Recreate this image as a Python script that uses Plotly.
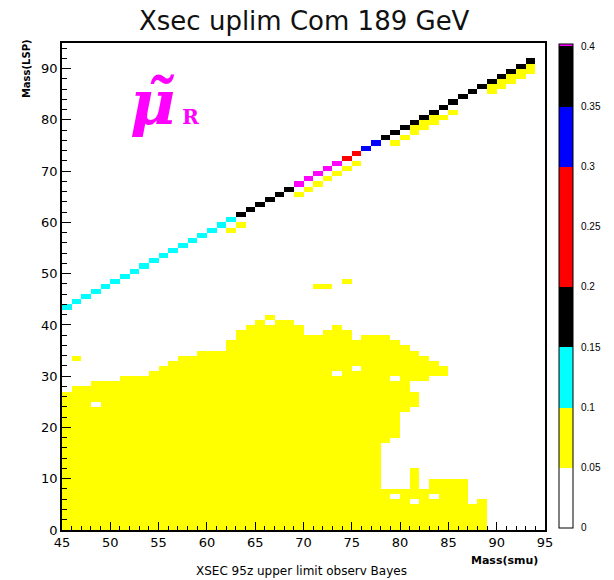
import plotly.graph_objects as go

# ---- binning (GeV) ----
smu_edges = list(range(45, 96))   # smuon mass bins, 1 GeV wide
lsp_edges = list(range(0, 96))    # LSP mass bins, 1 GeV wide

# ---- 95% CL cross-section upper limit (pb) ----
# cells along m_LSP = m_smu - 2
diag_smu = list(range(45, 94))
diag_dm = 2
diag_xsec = [0.14, 0.14, 0.13, 0.13, 0.13, 0.12, 0.12, 0.12, 0.12, 0.12,
             0.12, 0.13, 0.13, 0.13, 0.13, 0.14, 0.14, 0.14,            # 45-62
             0.16, 0.16, 0.17, 0.17, 0.18, 0.19,                          # 63-68
             0.41, 0.41, 0.41, 0.41, 0.41,                                # 69-73
             0.26, 0.29,                                                  # 74-75
             0.32, 0.34,                                                  # 76-77
             0.36, 0.36, 0.36, 0.37, 0.37, 0.37, 0.37, 0.38,
             0.38, 0.38, 0.38, 0.39, 0.39, 0.39, 0.39, 0.39]              # 78-93

# cells along m_LSP = m_smu - 4
dm4_smu = [62, 63, 69, 70, 71, 72, 73, 74, 75, 79, 80, 81, 82, 83, 84, 85,
           89, 90, 91, 92, 93]
dm4_dm = 4
dm4_xsec = [0.08, 0.08, 0.09, 0.09, 0.09, 0.09, 0.09, 0.09, 0.09, 0.08, 0.08,
            0.08, 0.08, 0.08, 0.09, 0.09, 0.08, 0.08, 0.08, 0.08, 0.08]

# cells along m_LSP = m_smu - 3
dm3_smu = [81, 82, 83, 89, 90, 91, 92, 93]
dm3_dm = 3
dm3_xsec = [0.09, 0.09, 0.09, 0.09, 0.09, 0.09, 0.09, 0.09]

# low-LSP region: filled LSP bin ranges [lo, hi) for each smuon column
region_smu = list(range(45, 89))
region_bands = [
    [(0, 27)], [(0, 28), (33, 34)], [(0, 28)], [(0, 24), (25, 29)],
    [(0, 29)], [(0, 29)], [(0, 30)], [(0, 30)], [(0, 30)], [(0, 31)],
    [(0, 32)], [(0, 33)], [(0, 34)], [(0, 34)], [(0, 35)], [(0, 35)],
    [(0, 35)], [(0, 37)], [(0, 39)], [(0, 40)], [(0, 41)],
    [(0, 40), (41, 42)], [(0, 41)], [(0, 41)], [(0, 40)], [(0, 38)],
    [(0, 38), (47, 48)], [(0, 39), (47, 48)], [(0, 30), (31, 40)],
    [(0, 39), (48, 49)], [(0, 31), (32, 37)], [(0, 38)], [(0, 38)],
    [(0, 8), (17, 38)], [(0, 6), (7, 8), (18, 29), (30, 37)],
    [(0, 8), (23, 36)], [(0, 5), (6, 12), (24, 27), (29, 35)],
    [(0, 8), (29, 34)], [(0, 6), (7, 10), (30, 33)], [(0, 10), (30, 32)],
    [(0, 10)], [(0, 10)], [(0, 5)], [(0, 6)],
]
region_xsec = [0.07] * len(region_smu)

# colour bands of the palette
band_edges = [0.0, 0.05, 0.10, 0.15, 0.20, 0.30, 0.35, 0.40, 0.402]
band_colors = ["#ffffff", "#ffff00", "#00ffff", "#000000", "#ff0000",
               "#0000ff", "#000000", "#ff00ff"]
cbar_ticks = [0, 0.05, 0.1, 0.15, 0.2, 0.25, 0.3, 0.35, 0.4]
cbar_text = ["0", "0.05", "0.1", "0.15", "0.2", "0.25", "0.3", "0.35", "0.4"]

# ---- build the 2D histogram ----
nx = len(smu_edges) - 1
ny = len(lsp_edges) - 1
z = [[None] * nx for _ in range(ny)]

for m, bands, v in zip(region_smu, region_bands, region_xsec):
    for lo, hi in bands:
        for j in range(lo, hi):
            z[j][m - smu_edges[0]] = v

for smus, dm, vals in ((dm4_smu, dm4_dm, dm4_xsec),
                       (dm3_smu, dm3_dm, dm3_xsec),
                       (diag_smu, diag_dm, diag_xsec)):
    for m, v in zip(smus, vals):
        z[m - dm - lsp_edges[0]][m - smu_edges[0]] = v

zmax = band_edges[-1]
colorscale = []
for k, c in enumerate(band_colors):
    colorscale.append([band_edges[k] / zmax, c])
    colorscale.append([band_edges[k + 1] / zmax, c])

fig = go.Figure()
fig.add_trace(go.Heatmap(
    x=smu_edges, y=lsp_edges, z=z,
    zmin=0, zmax=zmax, colorscale=colorscale,
    xgap=0, ygap=0, hoverongaps=False,
    colorbar=dict(
        tickvals=cbar_ticks, ticktext=cbar_text,
        ticks="outside", ticklen=6, tickcolor="rgba(0,0,0,0)",
        tickfont=dict(family="Liberation Sans", size=10, color="black"),
        outlinewidth=1, outlinecolor="black",
        thickness=14, x=1.0285, xanchor="left", xpad=0,
        lenmode="pixels", len=484, y=0.5015, yanchor="middle", ypad=0,
    ),
))

tick_font = dict(family="DejaVu Sans", size=13, color="black")
fig.update_xaxes(
    range=[45, 95], tickmode="array", tickvals=list(range(45, 96, 5)),
    ticks="inside", ticklen=8, tickwidth=1, tickcolor="black",
    minor=dict(ticks="inside", ticklen=4, dtick=1, tick0=45, tickcolor="black"),
    showline=True, linewidth=1.5, linecolor="black", mirror=True,
    showgrid=False, zeroline=False, tickfont=tick_font,
)
fig.update_yaxes(
    range=[0, 95], tickmode="linear", tick0=0, dtick=10,
    ticks="inside", ticklen=9, tickwidth=1, tickcolor="black",
    minor=dict(ticks="inside", ticklen=5, dtick=2, tick0=0, tickcolor="black"),
    showline=True, linewidth=1.5, linecolor="black", mirror=True,
    showgrid=False, zeroline=False, tickfont=tick_font,
)

# titles and captions
fig.add_annotation(text="Xsec uplim Com 189 GeV", xref="paper", yref="paper",
                   x=0.503, y=1.046, xanchor="center", yanchor="middle",
                   showarrow=False,
                   font=dict(family="DejaVu Sans", size=26, color="#111111"))
fig.add_annotation(text="<b>Mass(smu)</b>", xref="paper", yref="paper",
                   x=0.99, y=-0.0617, xanchor="right", yanchor="middle",
                   showarrow=False,
                   font=dict(family="DejaVu Sans", size=11, color="black"))
fig.add_annotation(text="<b>Mass(LSP)</b>", xref="paper", yref="paper",
                   x=-0.0733, y=0.9476, xanchor="center", yanchor="middle",
                   textangle=-90, showarrow=False,
                   font=dict(family="DejaVu Sans", size=10, color="black"))
fig.add_annotation(text="XSEC 95z upper limit observ Bayes", xref="paper",
                   yref="paper", x=0.495, y=-0.0843, xanchor="center",
                   yanchor="middle", showarrow=False,
                   font=dict(family="DejaVu Sans", size=12, color="black"))

# hand-written label of the channel: smuon_R
label_color = "#ff00ff"
fig.add_annotation(
    text="<b><i>\u03bc\u0303</i><span style='font-size:20px'> R</span></b>",
    x=55.6, y=83.3, showarrow=False,
    font=dict(family="DejaVu Serif", size=62, color=label_color))

fig.update_layout(
    width=614, height=580,
    margin=dict(l=62, r=61, t=43, b=50),
    paper_bgcolor="white", plot_bgcolor="white",
    showlegend=False,
)

fig.write_html("out.html")
